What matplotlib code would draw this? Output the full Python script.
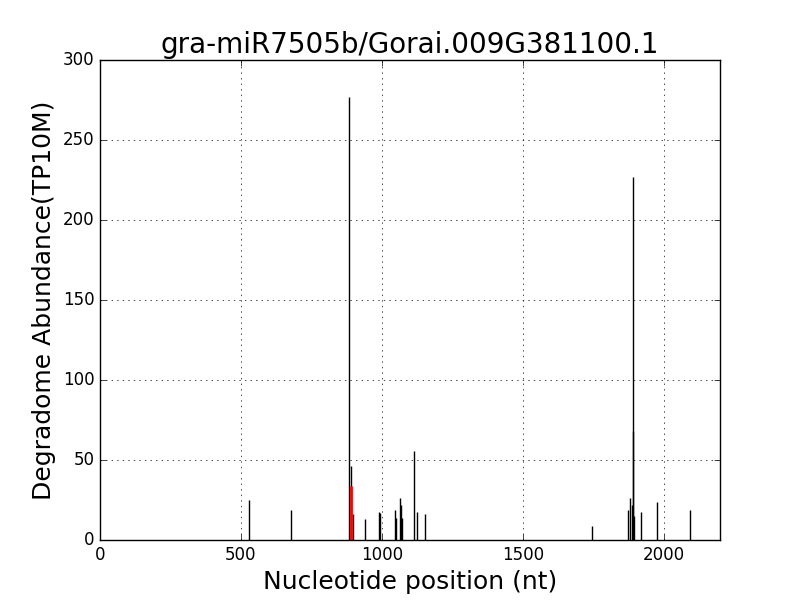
import matplotlib
matplotlib.use('Agg')
import matplotlib.pyplot as plt

plt.style.use('classic')

# cleavage positions (nt) and abundance (TP10M)
positions = [530, 679, 885, 891, 899, 942, 991, 995, 1047, 1049, 1066, 1069, 1073,
             1115, 1126, 1152, 1745, 1874, 1881, 1888, 1890, 1891, 1895, 1921, 1978, 2094]
abundance = [25, 19, 277, 46, 16.5, 13, 17.5, 17, 18.5, 14, 26.5, 22, 14,
             55.5, 17.5, 16, 8.5, 19, 26, 22, 68, 227, 15, 17.5, 23.5, 19]
target_pos = [891]
target_val = [34]

fig = plt.figure(figsize=(8, 6), dpi=100)
ax = fig.add_subplot(111)
ax.vlines(positions, 0, abundance, colors='black', linewidth=1)
ax.vlines(target_pos, 0, target_val, colors='red', linewidth=2)

ax.set_xlim(0, 2200)
ax.set_ylim(0, 300)
ax.grid(True)
ax.set_title('gra-miR7505b/Gorai.009G381100.1', fontsize=20)
ax.set_xlabel('Nucleotide position (nt)', fontsize=18)
ax.set_ylabel('Degradome Abundance(TP10M)', fontsize=18)
fig.subplots_adjust(left=0.125, right=0.9, bottom=0.1, top=0.9)
fig.savefig('out.png', dpi=100)
